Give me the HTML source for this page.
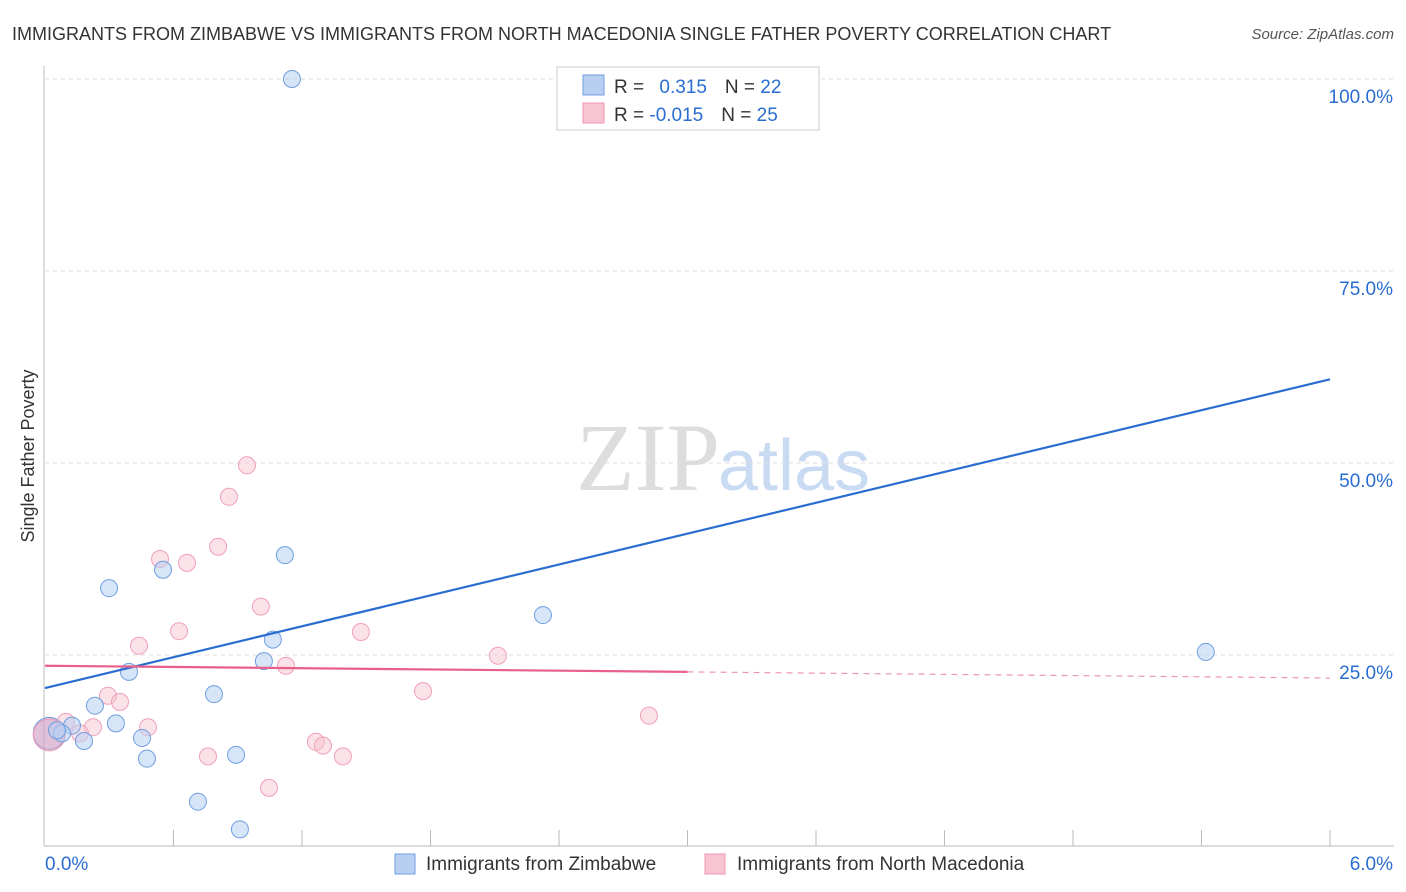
<!DOCTYPE html>
<html><head><meta charset="utf-8"><style>
body{margin:0;background:#fff;font-family:"Liberation Sans",sans-serif}
</style></head><body>
<svg id="c" width="1406" height="892" style="display:block">
<text x="12" y="40" font-size="18" fill="#333">IMMIGRANTS FROM ZIMBABWE VS IMMIGRANTS FROM NORTH MACEDONIA SINGLE FATHER POVERTY CORRELATION CHART</text>
<text x="1394" y="39" font-size="15" fill="#555" font-style="italic" text-anchor="end">Source: ZipAtlas.com</text>
<text x="34" y="456" font-size="18" fill="#333" text-anchor="middle" transform="rotate(-90 34 456)">Single Father Poverty</text>
<text x="720" y="490" font-size="96" fill="#ddd" text-anchor="end" font-family="Liberation Serif,serif">ZIP</text>
<text x="718" y="490" font-size="72" fill="#c9daf3">atlas</text>
<g id="grid"></g><g id="axes"></g><g id="pts"></g><g id="lines"></g>
<g>
<rect x="557" y="67" width="262" height="63" fill="#fff" stroke="#ccc"/>
<rect x="583" y="75" width="21" height="20" fill="#b7d0f2" stroke="#6f9ee0"/>
<rect x="583" y="103" width="21" height="20" fill="#f8c4d2" stroke="#ee96b0"/>
<text x="614" y="93" font-size="19" fill="#333">R = <tspan fill="#2a6dd1" dx="10">0.315</tspan><tspan fill="#333" dx="18">N = </tspan><tspan fill="#2a6dd1">22</tspan></text>
<text x="614" y="121" font-size="19" fill="#333">R = <tspan fill="#2a6dd1">-0.015</tspan><tspan fill="#333" dx="18">N = </tspan><tspan fill="#2a6dd1">25</tspan></text>
</g>
<g>
<rect x="395" y="854" width="20" height="20" fill="#b7d0f2" stroke="#6f9ee0"/>
<text x="426" y="870" font-size="19" fill="#333">Immigrants from Zimbabwe</text>
<rect x="705" y="854" width="20" height="20" fill="#f8c4d2" stroke="#ee96b0"/>
<text x="737" y="870" font-size="19" fill="#333">Immigrants from North Macedonia</text>
</g>
</svg>
<script>
const blueX=[1.153,0.299,0.551,1.120,2.325,5.420,1.064,1.022,0.392,0.789,0.233,0.331,0.453,0.126,0.079,0.182,0.476,0.892,0.714,0.910,0.056];
const blueY=[100,33.7,36.1,38.0,30.2,25.4,27.0,24.2,22.8,19.9,18.4,16.1,14.2,15.8,14.8,13.8,11.5,12.0,5.9,2.3,15.2];
const pinkX=[0.943,0.859,0.808,0.537,0.663,1.008,0.626,1.475,0.439,2.115,1.125,1.765,0.294,0.350,2.820,0.098,0.224,0.481,0.163,1.265,1.298,1.391,0.761,1.046];
const pinkY=[49.7,45.6,39.1,37.5,37.0,31.3,28.1,28.0,26.2,24.9,23.6,20.3,19.7,18.9,17.1,16.3,15.6,15.6,14.8,13.7,13.2,11.8,11.8,7.7];
const bigX=[0.02,0.02];const bigY=[14.8,14.6];
const blueTrend=[20.7,60.9];const pinkTrend=[23.6,22.0];
const yTicks=[25,50,75,100];const yTickLabels=["25.0%","50.0%","75.0%","100.0%"];
const xTickLabels=["0.0%","6.0%"];
const NS="http://www.w3.org/2000/svg";
const sx=v=>45+v*214.17, sy=v=>847-v*7.68;
function mk(t,a,p){const e=document.createElementNS(NS,t);for(const k in a)e.setAttribute(k,a[k]);document.getElementById(p).appendChild(e);return e;}
yTicks.forEach((t,i)=>{
 const g=mk('line',{x1:45,x2:1394,y1:sy(t),y2:sy(t),stroke:'#ddd','stroke-dasharray':'4,4'},'grid');
 
 
 const l=mk('text',{x:1393,y:sy(t)+24,'font-size':19,fill:'#2a6dd1','text-anchor':'end'},'grid');
 l.textContent=yTickLabels[i];
 
 
});
let ax=mk('line',{x1:44,x2:44,y1:66,y2:846,stroke:'#bbb'},'axes');


ax=mk('line',{x1:44,x2:1394,y1:846,y2:846,stroke:'#bbb'},'axes');


for(let i=1;i<=10;i++){const t=mk('line',{x1:sx(i*0.6),x2:sx(i*0.6),y1:830,y2:846,stroke:'#bbb'},'axes');
 
 }
[[0,45,'start'],[6,1393,'end']].forEach((d,i)=>{const t=mk('text',{x:d[1],y:870,'font-size':19,fill:'#2a6dd1','text-anchor':d[2]},'axes');t.textContent=xTickLabels[i];
 
 });
for(let i=0;i<bigX.length;i++){const c=mk('circle',{cx:sx(bigX[i]),cy:sy(bigY[i]),r:16,fill:i?'rgba(244,160,185,0.45)':'rgba(150,180,230,0.45)',stroke:i?'#ee96b0':'#6f9ee0'},'pts');
 
 }
pinkX.forEach((x,i)=>{const c=mk('circle',{cx:sx(x),cy:sy(pinkY[i]),r:8.5,fill:'rgba(248,196,210,0.5)',stroke:'#f0a0b8'},'pts');
 
 });
blueX.forEach((x,i)=>{const c=mk('circle',{cx:sx(x),cy:sy(blueY[i]),r:8.5,fill:'rgba(183,208,242,0.55)',stroke:'#6f9ee0'},'pts');
 
 });
let l=mk('line',{x1:sx(0),y1:sy(blueTrend[0]),x2:sx(6),y2:sy(blueTrend[1]),stroke:'#2a6dd1','stroke-width':2.2},'lines');


const pm=v=>pinkTrend[0]+(pinkTrend[1]-pinkTrend[0])*v/6;
l=mk('line',{x1:sx(0),y1:sy(pm(0)),x2:sx(3),y2:sy(pm(3)),stroke:'#e8608a','stroke-width':2.2},'lines');


l=mk('line',{x1:sx(3),y1:sy(pm(3)),x2:sx(6),y2:sy(pm(6)),stroke:'#ee96b0','stroke-width':1.2,'stroke-dasharray':'6,5'},'lines');


</script>
</body></html>
